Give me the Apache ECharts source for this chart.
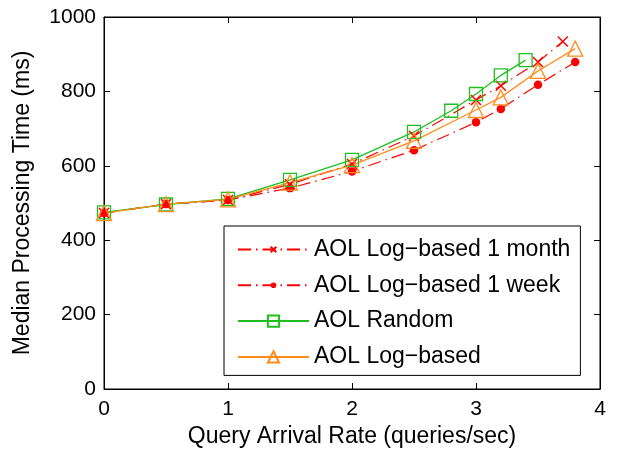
<!DOCTYPE html>
<html>
<head>
<meta charset="utf-8">
<script src="https://cdn.jsdelivr.net/npm/echarts@6/dist/echarts.min.js"></script>
<style>
  html, body { margin: 0; padding: 0; background: #fff; }
  #chart { width: 619px; height: 454px; }
</style>
</head>
<body>
<div id="chart"></div>
<script>
// values
const monthX = [0, 0.5, 1, 1.5, 2, 2.5, 3, 3.2, 3.5, 3.7];
const monthY = [473, 497, 508, 550, 605, 680, 777, 815, 879, 934];

const weekX = [0, 0.5, 1, 1.5, 2, 2.5, 3, 3.2, 3.5, 3.8];
const weekY = [473, 497, 508, 540, 585, 642, 717, 753, 818, 879];

const randomX = [0, 0.5, 1, 1.5, 2, 2.5, 2.8, 3, 3.2, 3.4];
const randomY = [475, 496, 511, 562, 616, 691, 748, 793, 843, 884];

const logX = [0, 0.5, 1, 1.5, 2, 2.5, 3, 3.2, 3.5, 3.8];
const logY = [473, 497, 510, 555, 602, 667, 750, 784, 855, 915];

const xTicks = [0, 1, 2, 3, 4];
const yTicks = [0, 200, 400, 600, 800, 1000];

const FONT = "Liberation Sans";
const RED = "#ff0000";
const GREEN = "#1fbf1f";
const ORANGE = "#ff8c1a";

// padded symbol paths so the legend copies come out smaller, like the original
const CROSS = "path://M0,0M20,20M5,5L15,15M15,5L5,15";
const DOT = "path://M0,0M20,20M5,10A5,5 0 1,0 15,10A5,5 0 1,0 5,10Z";

function pairs(xs, ys) {
  return xs.map((x, i) => [x, ys[i]]);
}

let chart = echarts.init(document.getElementById("chart"), null, { renderer: "canvas" });

const AXIS_COMMON = {
  axisLine: { show: true, onZero: false, lineStyle: { color: "#000", width: 1 } },
  axisTick: { show: true, inside: true, length: 6, lineStyle: { color: "#000" } },
  splitLine: { show: false },
};

let option = {
  animation: false,
  backgroundColor: "#fff",
  textStyle: { fontFamily: FONT },
  grid: { left: 104, right: 19, top: 17, bottom: 65, show: true, borderColor: "#000", borderWidth: 1 },
  xAxis: [
    {
      ...AXIS_COMMON,
      type: "value",
      position: "bottom",
      min: xTicks[0],
      max: xTicks[xTicks.length - 1],
      interval: 1,
      name: "Query Arrival Rate (queries/sec)",
      nameLocation: "middle",
      nameGap: 36,
      nameTextStyle: { fontFamily: FONT, fontSize: 23, color: "#000" },
      axisLabel: { fontFamily: FONT, fontSize: 21, color: "#000", margin: 10 },
    },
    {
      ...AXIS_COMMON,
      type: "value",
      position: "top",
      min: xTicks[0],
      max: xTicks[xTicks.length - 1],
      interval: 1,
      axisLabel: { show: false },
    },
  ],
  yAxis: [
    {
      ...AXIS_COMMON,
      type: "value",
      position: "left",
      min: yTicks[0],
      max: yTicks[yTicks.length - 1],
      interval: 200,
      name: "Median Processing Time (ms)",
      nameLocation: "middle",
      nameGap: 70,
      nameTextStyle: { fontFamily: FONT, fontSize: 23, color: "#000" },
      axisLabel: {
        fontFamily: FONT,
        fontSize: 21,
        color: "#000",
        margin: 8,
        formatter: (value) => `${value}`,
      },
    },
    {
      ...AXIS_COMMON,
      type: "value",
      position: "right",
      min: yTicks[0],
      max: yTicks[yTicks.length - 1],
      interval: 200,
      axisLabel: { show: false },
    },
  ],
  legend: {
    orient: "vertical",
    left: 224,
    top: 226,
    backgroundColor: "#fff",
    borderColor: "#000",
    borderWidth: 1,
    borderRadius: 0,
    padding: [12, 10, 7, 13],
    itemWidth: 71,
    itemHeight: 14,
    itemGap: 12.8,
    textStyle: { fontFamily: FONT, fontSize: 23, color: "#000" },
    data: [
      "AOL Log\u2212based 1 month",
      "AOL Log\u2212based 1 week",
      "AOL Random",
      "AOL Log\u2212based",
    ],
  },
  series: [
    {
      name: "AOL Log\u2212based 1 month",
      type: "line",
      data: pairs(monthX, monthY),
      symbol: CROSS,
      symbolSize: 20,
      lineStyle: { color: RED, width: 1.2, type: [13, 5, 1.5, 5] },
      itemStyle: { color: "rgba(0,0,0,0)", borderColor: RED, borderWidth: 1.5 },
    },
    {
      name: "AOL Log\u2212based 1 week",
      type: "line",
      data: pairs(weekX, weekY),
      symbol: DOT,
      symbolSize: 17,
      lineStyle: { color: RED, width: 1.2, type: [13, 5, 1.5, 5] },
      itemStyle: { color: RED, borderColor: RED, borderWidth: 0 },
    },
    {
      name: "AOL Random",
      type: "line",
      data: pairs(randomX, randomY),
      symbol: "rect",
      symbolSize: 13,
      lineStyle: { color: GREEN, width: 1.3 },
      itemStyle: { color: "rgba(0,0,0,0)", borderColor: GREEN, borderWidth: 1.3 },
    },
    {
      name: "AOL Log\u2212based",
      type: "line",
      data: pairs(logX, logY),
      symbol: "triangle",
      symbolSize: 15,
      lineStyle: { color: ORANGE, width: 1.3 },
      itemStyle: { color: "rgba(0,0,0,0)", borderColor: ORANGE, borderWidth: 1.3 },
    },
  ],
};

option && chart.setOption(option);
</script>
</body>
</html>
